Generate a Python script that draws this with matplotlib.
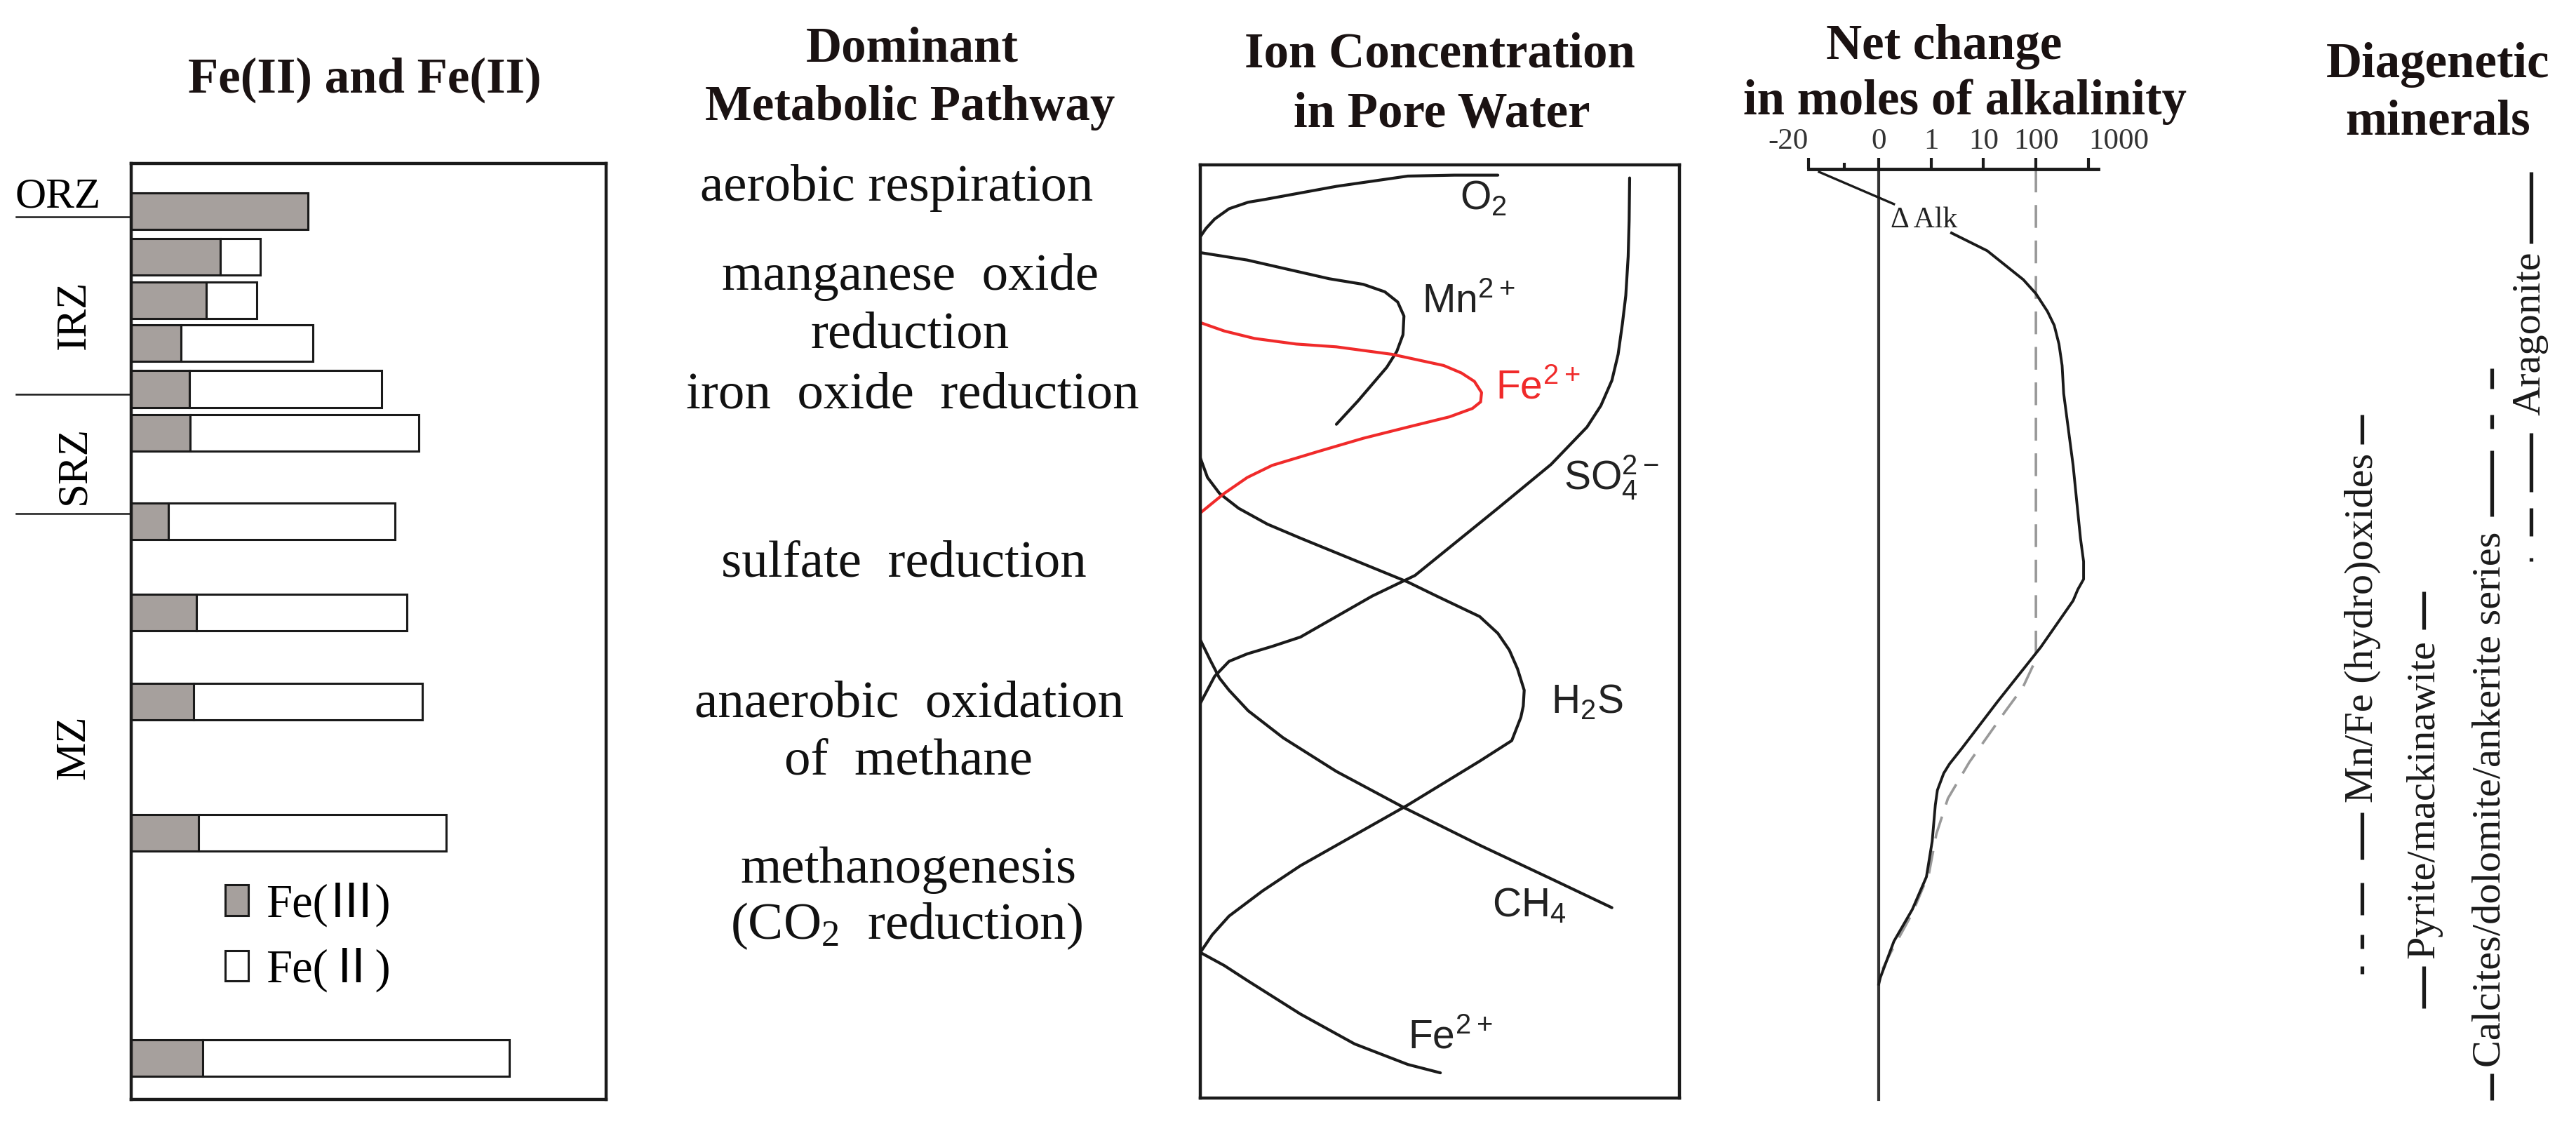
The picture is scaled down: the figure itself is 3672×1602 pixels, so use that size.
import matplotlib
matplotlib.use('Agg')
import matplotlib.pyplot as plt

plt.rcParams['font.family'] = ['Liberation Serif', 'DejaVu Serif']
plt.rcParams['mathtext.default'] = 'regular'

W, H = 3672, 1602

# ---- left panel: Fe(III) / Fe(II) bars (depth 0-100, length 0-100) ----
bar_depth = [5.1, 10.0, 14.6, 19.2, 24.1, 28.8, 38.2, 48.0, 57.5, 71.5, 95.6]
fe3 = [37.2, 18.8, 15.8, 10.5, 12.3, 12.4, 7.8, 13.7, 13.1, 14.2, 15.1]
fe2 = [0.0, 8.4, 10.6, 27.8, 40.4, 48.2, 47.7, 44.3, 48.2, 52.1, 64.5]
zone_bounds = [5.7, 24.7, 37.4]
zone_names = ['ORZ', 'IRZ', 'SRZ', 'MZ']
zone_label_v = [4.7, 16.2, 32.2, 62.4]

# ---- pathway text ----
pathway_lines = ['aerobic respiration', 'manganese  oxide', 'reduction',
                 'iron  oxide  reduction', 'sulfate  reduction',
                 'anaerobic  oxidation', 'of  methane', 'methanogenesis',
                 '(CO$_2$  reduction)']

# ---- ion concentration curves (u: 0-1 across, v: 0-1 depth) ----
o2_u = [0, .012, .030, .060, .100, .135, .284, .433, .530, .621]
o2_v = [.077, .068, .058, .047, .040, .037, .023, .012, .011, .011]
mn_u = [0, .098, .269, .340, .385, .412, .425, .423, .410, .389, .329, .284]
mn_v = [.094, .102, .122, .128, .136, .147, .162, .182, .200, .217, .253, .278]
fe_u = [0, .050, .113, .200, .284, .400, .508, .545, .572, .587, .585, .568, .520,
        .433, .340, .247, .150, .098, .050, 0]
fe_v = [.169, .178, .186, .192, .195, .203, .215, .223, .232, .244, .254, .261, .270,
        .281, .293, .307, .322, .335, .352, .373]
so4_u = [.896, .895, .893, .888, .881, .872, .859, .836, .807, .732, .621, .448,
         .359, .209, .150, .098, .060, .030, 0]
so4_v = [.014, .060, .098, .140, .170, .203, .231, .258, .281, .321, .368, .440,
         .462, .506, .516, .524, .532, .548, .577]
h2s_u = [0, .015, .040, .080, .140, .209, .433, .493, .583, .621, .645, .662, .676,
         .674, .669, .650, .583, .433, .209, .130, .060, .025, 0]
h2s_v = [.314, .335, .352, .368, .385, .400, .447, .462, .484, .502, .520, .540, .563,
         .580, .592, .617, .639, .686, .751, .778, .805, .825, .844]
ch4_u = [0, .020, .040, .060, .100, .173, .284, .426, .583, .732, .859]
ch4_v = [.509, .530, .550, .563, .585, .614, .650, .689, .729, .765, .796]
fe_low_u = [0, .050, .098, .209, .322, .433, .501]
fe_low_v = [.844, .858, .874, .910, .942, .964, .973]

# ---- alkalinity (schematic log-like scale) ----
alk_tick_pos = [-1.34, 0, 1, 2, 3, 4]
alk_tick_lab = ['-20', '0', '1', '10', '100', '1000']
alk_minor_pos = [-0.66]
alk_u = [1.39, 2.07, 2.76, 3.00, 3.22, 3.35, 3.44, 3.50, 3.53, 3.71, 3.85, 3.91, 3.91,
         3.80, 3.71, 3.09, 2.27, 1.59, 1.35, 1.24, 1.12, 1.08, 1.02, 0.91, 0.64, 0.29,
         0.03, 0.0]
alk_v = [0.073, 0.092, 0.123, 0.138, 0.157, 0.172, 0.192, 0.215, 0.245, 0.322, 0.400,
         0.425, 0.444, 0.455, 0.467, 0.517, 0.575, 0.625, 0.642, 0.652, 0.670, 0.686,
         0.725, 0.763, 0.798, 0.832, 0.871, 0.878]
ref_u = [3.0, 3.0, 2.75, 2.41, 1.73, 1.32, 1.10, 0.96, 0.64, 0.23, 0.0]
ref_v = [0.005, 0.53, 0.56, 0.586, 0.640, 0.679, 0.717, 0.759, 0.802, 0.844, 0.87]

# ---- diagenetic minerals: label and depth ranges (v) ----
minerals = ['Mn/Fe (hydro)oxides', 'Pyrite/mackinawite',
            'Calcites/dolomite/ankerite series', 'Aragonite']
mineral_label_v = [0.496, 0.680, 0.680, 0.181]
mineral_segments = [
    [(.268, .299), (.694, .744), (.769, .804), (.825, .840), (.859, .867)],
    [(.457, .498), (.859, .904)],
    [(.218, .240), (.268, .283), (.306, .377), (.974, 1.002)],
    [(.0075, .084), (.287, .350), (.368, .398), (.421, .425)],
]


def px_axes(x0, y0, x1, y1):
    return fig.add_axes([x0 / W, 1 - y1 / H, (x1 - x0) / W, (y1 - y0) / H])


def ftext(x, y, s, **kw):
    fig.text(x / W, 1 - y / H, s, **kw)


fig = plt.figure(figsize=(W / 100, H / 100), dpi=100)
fig.patch.set_facecolor('white')

TITLE = dict(fontsize=51, fontweight='bold', ha='center', va='baseline', color='#1a1212')
ftext(520, 132, 'Fe(II) and Fe(II)', **TITLE)
ftext(1300, 87, 'Dominant', **TITLE)
ftext(1297, 171, 'Metabolic Pathway', **TITLE)
ftext(2052, 96, 'Ion Concentration', **TITLE)
ftext(2055, 180, 'in Pore Water', **TITLE)
ftext(2771, 84, 'Net change', **TITLE)
ftext(2801, 163, 'in moles of alkalinity', **TITLE)
ftext(3475, 110, 'Diagenetic', **TITLE)
ftext(3475, 191, 'minerals', **TITLE)

# pathway column
path_x = [1278, 1298, 1297, 1301, 1288, 1296, 1295, 1295, 1292]
path_y = [286, 413, 495, 582, 822, 1021, 1104, 1258, 1338]
for s, x, y in zip(pathway_lines, path_x, path_y):
    ftext(x, y, s, fontsize=54, ha='center', va='baseline', color='#111111')

# ---- bars ----
ax = px_axes(187, 233, 864, 1567)
ax.set_xlim(0, 100)
ax.set_ylim(100, 0)
ax.set_xticks([])
ax.set_yticks([])
for sp in ax.spines.values():
    sp.set_linewidth(3.2)
    sp.set_color('#1a1a1a')
b3 = ax.barh(bar_depth, fe3, height=3.9, color='#a6a09d', edgecolor='#1a1a1a', linewidth=2.2)
b2 = ax.barh(bar_depth, fe2, left=fe3, height=3.9, color='white', edgecolor='#1a1a1a', linewidth=2.2)
for v in zone_bounds:
    ax.plot([-24.2, 0], [v, v], color='#1a1a1a', lw=1.8, clip_on=False)
ax.text(-15.4, zone_label_v[0], zone_names[0], fontsize=44, ha='center', va='baseline')
for name, v in zip(zone_names[1:], zone_label_v[1:]):
    ax.text(-12.0, v, name, fontsize=44, ha='center', va='center', rotation=90)
ax.legend([b3, b2], ['Fe(Ⅲ)', 'Fe(Ⅱ)'], loc='upper left', bbox_to_anchor=(0.198, 0.232),
          frameon=False, borderpad=0, borderaxespad=0, handlelength=0.5, handleheight=0.63,
          handletextpad=0.37, labelspacing=0.45,
          prop={'family': ['Liberation Serif', 'Noto Sans CJK SC'], 'size': 48})

# ---- ion concentration ----
ax = px_axes(1711, 235, 2394, 1565)
ax.set_xlim(0, 1)
ax.set_ylim(1, 0)
ax.set_xticks([])
ax.set_yticks([])
for sp in ax.spines.values():
    sp.set_linewidth(3.2)
    sp.set_color('#1a1a1a')
LK = dict(color='#1a1a1a', lw=3.0, solid_joinstyle='round', solid_capstyle='round')
ax.plot(o2_u, o2_v, **LK)
ax.plot(mn_u, mn_v, **LK)
ax.plot(so4_u, so4_v, **LK)
ax.plot(h2s_u, h2s_v, **LK)
ax.plot(ch4_u, ch4_v, **LK)
ax.plot(fe_low_u, fe_low_v, **LK)
ax.plot(fe_u, fe_v, color='#f02a2a', lw=3.0, solid_joinstyle='round')
SANS = dict(family=['Liberation Sans', 'DejaVu Sans'], fontsize=41, va='baseline', ha='left')
ax.text(.541, .047, 'O$_2$', color='#222222', **SANS)
ax.text(.462, .159, 'Mn$^{2+}$', color='#222222', **SANS)
ax.text(.616, .251, 'Fe$^{2+}$', color='#f02a2a', **SANS)
ax.text(.759, .348, 'SO$_4^{2-}$', color='#222222', **SANS)
ax.text(.732, .587, 'H$_2$S', color='#222222', **SANS)
ax.text(.609, .805, 'CH$_4$', color='#222222', **SANS)
ax.text(.433, .947, 'Fe$^{2+}$', color='#222222', **SANS)

# ---- alkalinity ----
ax = px_axes(2578, 241, 2991, 1567)
ax.set_xlim(-1.338, 4.19)
ax.set_ylim(1.0015, 0.0045)
for k in ['left', 'right', 'bottom']:
    ax.spines[k].set_visible(False)
ax.spines['top'].set_linewidth(3.5)
ax.spines['top'].set_color('#1a1a1a')
ax.set_yticks([])
ax.xaxis.tick_top()
ax.set_xticks(alk_tick_pos, alk_tick_lab)
ax.set_xticks(alk_minor_pos, minor=True)
ax.tick_params(axis='x', which='major', direction='out', length=11.5, width=3,
               labelsize=31, pad=3, colors='#1a1a1a')
ax.tick_params(axis='x', which='minor', direction='out', length=6.5, width=3, colors='#1a1a1a')
labs = ax.get_xticklabels()
labs[0].set_ha('right')
labs[-1].set_ha('left')
for t in labs:
    t.set_color('#333333')
ax.plot([0, 0], [0.0045, 1.0015], color='#333333', lw=3.0, clip_on=False)
ax.plot(ref_u, ref_v, color='#999999', lw=2.6, linestyle=(0, (9, 5)))
ax.plot(alk_u, alk_v, color='#1a1a1a', lw=2.8, solid_joinstyle='round')
ax.plot([-1.14, 0.29], [0.0075, 0.042], color='#1a1a1a', lw=2.4)
ax.text(0.23, 0.067, 'Δ Alk', fontsize=30, ha='left', va='baseline', color='#222222')

# ---- diagenetic minerals ----
ax = px_axes(3300, 235, 3672, 1565)
ax.set_xlim(0, 372)
ax.set_ylim(1, 0)
ax.axis('off')
col_x = [67, 155, 252, 308]
col_text_x = [68, 155, 249, 306]
for name, cx, tx, tv, segs in zip(minerals, col_x, col_text_x, mineral_label_v, mineral_segments):
    ax.text(tx, tv, name, fontsize=42, rotation=90, ha='center', va='center', color='#1a1a1a')
    for a, b in segs:
        ax.plot([cx, cx], [a, b], color='#1a1a1a', lw=3.8, solid_capstyle='butt', clip_on=False)

fig.savefig('out.png', dpi=100, facecolor='white')
